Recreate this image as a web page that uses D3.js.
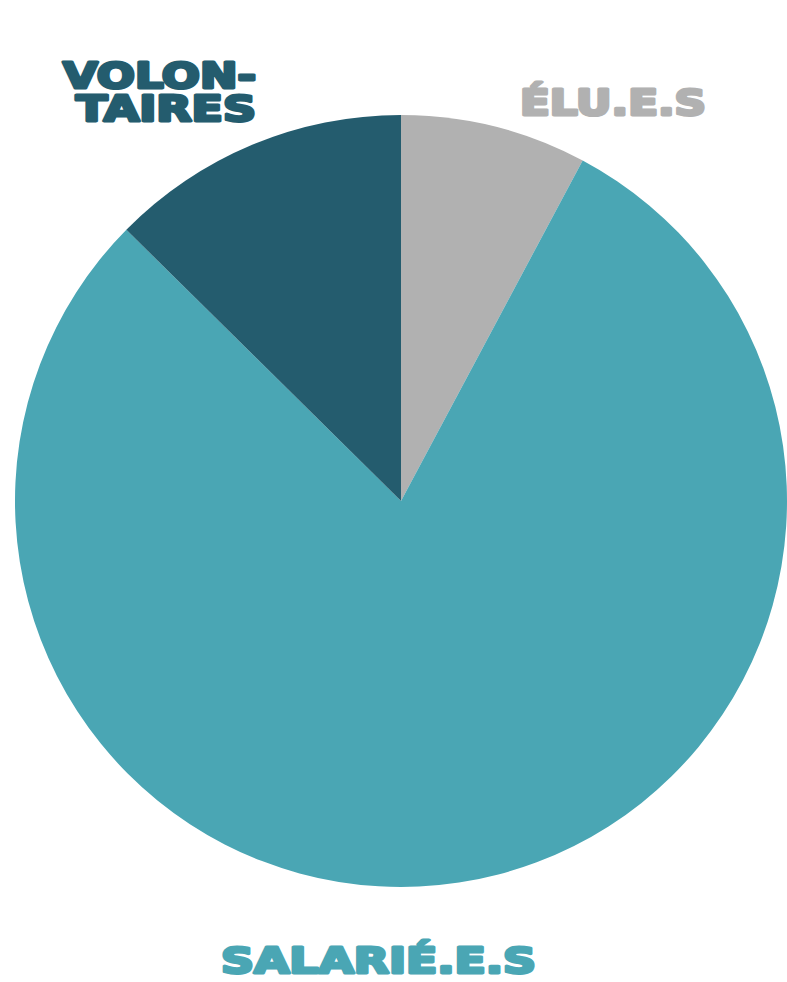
<!DOCTYPE html>
<html>
<head>
<meta charset="utf-8">
<script src="https://cdn.jsdelivr.net/npm/d3@7"></script>
<style>
  body { margin: 0; background: #fff; }
  svg { display: block; }
</style>
</head>
<body>
<div id="chart"></div>
<script>
const categories = ['Élu.e.s', 'Salarié.e.s', 'Volontaires'];
const values = [7.8, 79.6, 12.6];
const colors = ['#b1b1b1', '#4aa6b4', '#245c6e'];

const width = 787;
const height = 982;
const cx = 401;
const cy = 501;
const radius = 386;

const svg = d3
  .select('#chart')
  .append('svg')
  .attr('width', width)
  .attr('height', height);

/* Pie
-----------------------------------------------------------------------------*/
const pie = d3.pie().sort(null).value((d) => d.value);
const arc = d3.arc().innerRadius(0).outerRadius(radius);

const data = categories.map((c, i) => ({ name: c, value: values[i], color: colors[i] }));

svg
  .append('g')
  .attr('transform', `translate(${cx},${cy})`)
  .selectAll('path')
  .data(pie(data))
  .join('path')
  .attr('d', arc)
  .attr('fill', (d) => d.data.color);

/* Labels
-----------------------------------------------------------------------------*/
const labels = [
  { lines: ['ÉLU.E.S'], x: [520], y: [115], w: [186], color: colors[0] },
  { lines: ['SALARIÉ.E.S'], x: [221], y: [973], w: [315], color: colors[1] },
  { lines: ['VOLON-', 'TAIRES'], x: [63, 76], y: [88, 121], w: [193, 180], color: colors[2] },
];

labels.forEach((label) => {
  label.lines.forEach((line, i) => {
    svg
      .append('text')
      .attr('x', label.x[i])
      .attr('y', label.y[i])
      .attr('textLength', label.w[i])
      .attr('lengthAdjust', 'spacingAndGlyphs')
      .attr('font-family', 'DejaVu Sans')
      .attr('font-weight', 'bold')
      .attr('font-size', 35)
      .attr('fill', label.color)
      .attr('stroke', label.color)
      .attr('stroke-width', 3)
      .attr('stroke-linejoin', 'round')
      .text(line);
  });
});
</script>
</body>
</html>
